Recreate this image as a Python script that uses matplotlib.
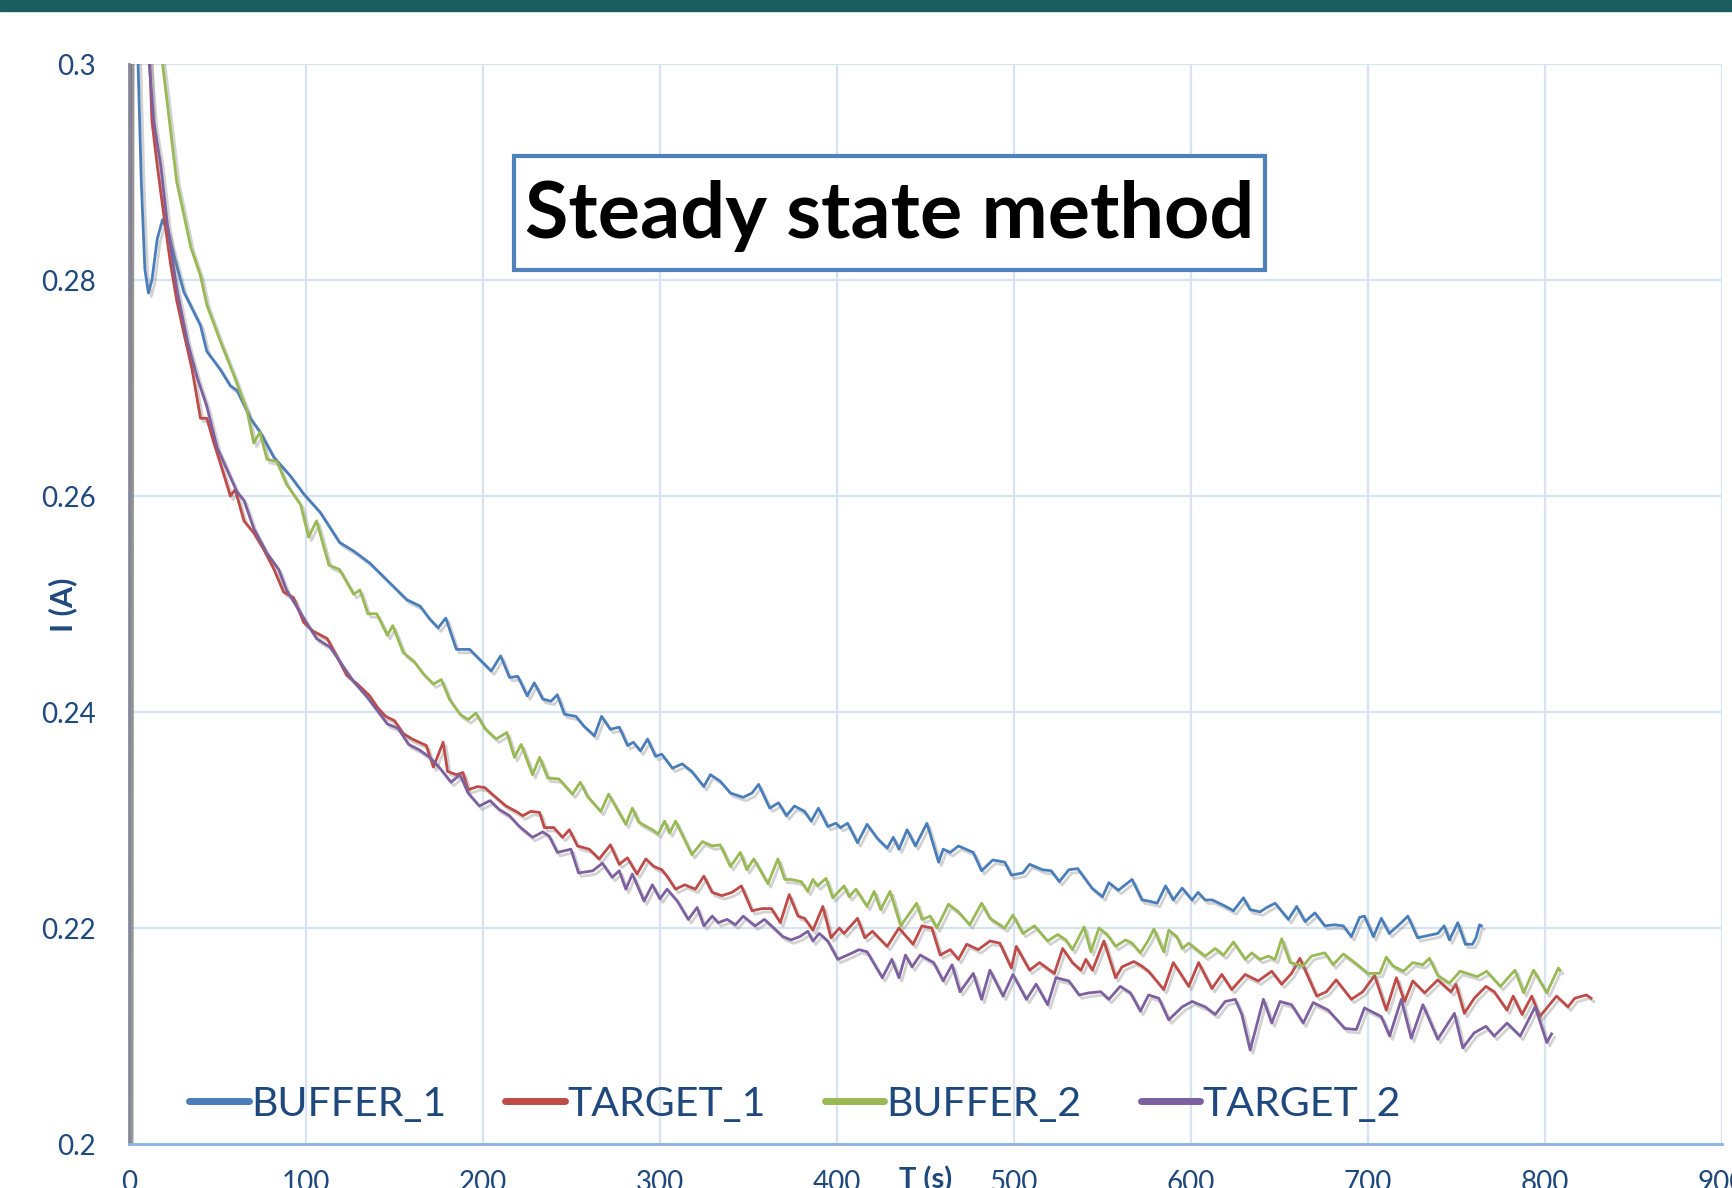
import matplotlib
matplotlib.use("Agg")
import matplotlib.pyplot as plt
import matplotlib.patheffects as pe
from matplotlib.patches import Rectangle
import matplotlib.transforms as mtransforms

# (time s, current A)
buffer_1 = [
    (0, 0.18), (1, 0.33), (3, 0.315), (5, 0.301), (7, 0.289), (9, 0.281), (11, 0.2788), (13, 0.2800),
    (16, 0.2838), (19, 0.2856), (22, 0.2845), (25.4, 0.2823), (31, 0.2789), (40.4, 0.2758), (44, 0.2734),
    (51.7, 0.2717), (57.3, 0.2702), (61, 0.2698), (68.6, 0.2672), (74.2, 0.2659), (81.8, 0.2636), (91, 0.2619),
    (98.7, 0.2602), (108, 0.2585), (119, 0.2557), (127, 0.2549), (136, 0.2538), (144, 0.2525), (149, 0.2517),
    (157, 0.2504), (164.5, 0.2498), (170, 0.2486), (174.7, 0.2478), (179, 0.2487), (185, 0.2458), (192.5, 0.2458),
    (198, 0.2449), (204.7, 0.2438), (210, 0.2452), (215, 0.2432), (219.7, 0.2433), (225, 0.2415), (229, 0.2427),
    (233.8, 0.2412), (238.5, 0.241), (242, 0.2416), (246, 0.2398), (252.5, 0.2396), (257, 0.2387), (263, 0.2378),
    (267, 0.2396), (272, 0.2384), (277, 0.2386), (281.7, 0.2369), (285, 0.2372), (289, 0.2364), (293, 0.2375),
    (297.5, 0.2359), (301, 0.2361), (307, 0.2348), (312.6, 0.2352), (318, 0.2345), (324.8, 0.2331), (328.5, 0.2342),
    (334, 0.2336), (339.8, 0.2325), (347, 0.2321), (352, 0.2325), (355.7, 0.2333), (362, 0.2311), (367, 0.2316),
    (371.4, 0.2304), (376, 0.2313), (381.7, 0.2308), (385.4, 0.2299), (389.5, 0.2311), (394.8, 0.2294),
    (399.4, 0.2297), (402, 0.2293), (406, 0.2297), (411.6, 0.2279), (417, 0.2296), (422.8, 0.2283), (428.4, 0.2274),
    (431.8, 0.2284), (435, 0.2273), (439.6, 0.2291), (444.3, 0.2276), (450.8, 0.2297), (457.4, 0.2261), (460, 0.2273),
    (464, 0.227), (468.6, 0.2276), (477, 0.227), (481.7, 0.2253), (488, 0.2263), (494.8, 0.2261), (498.5, 0.2249),
    (505, 0.2251), (508.8, 0.2259), (516, 0.2254), (521, 0.2253), (525.6, 0.2243), (531, 0.2254), (536, 0.2255),
    (544, 0.2237), (550, 0.2229), (553.6, 0.2242), (559, 0.2235), (566.7, 0.2245), (572.3, 0.2226), (576, 0.2225),
    (580.9, 0.2223), (585.6, 0.2239), (590, 0.2226), (595, 0.2237), (600.6, 0.2226), (604, 0.2233), (608, 0.2226),
    (612, 0.2226), (618.4, 0.2221), (624, 0.2216), (629.6, 0.2228), (633.4, 0.2217), (639, 0.2215), (642.8, 0.2219),
    (647.5, 0.2223), (655, 0.2208), (659.7, 0.222), (664.4, 0.2206), (670, 0.2214), (675.6, 0.2202), (681, 0.2203),
    (686, 0.2202), (690.6, 0.2192), (695.3, 0.221), (698, 0.2211), (703, 0.2192), (707.5, 0.2209), (712, 0.2195),
    (718.8, 0.2205), (722.5, 0.2211), (728, 0.2191), (733.8, 0.2193), (739.4, 0.2195), (743, 0.2202), (746, 0.2189),
    (750.7, 0.2205), (755, 0.2185), (759, 0.2185), (761, 0.2191), (763, 0.2203), (764, 0.2202),
]

target_1 = [
    (0, 0.18), (1, 0.36), (6, 0.325), (11.8, 0.300), (13, 0.2947), (16, 0.2906), (19.7, 0.286), (23.5, 0.2815),
    (27, 0.2781), (31, 0.2751), (35.7, 0.2717), (40.4, 0.2672), (44, 0.2672), (48, 0.2649), (51.7, 0.263),
    (57.3, 0.26), (60, 0.2606), (65, 0.2577), (70.5, 0.2566), (76, 0.2551), (82, 0.2532), (87.4, 0.2511),
    (93, 0.2506), (98.7, 0.2483), (104, 0.2475), (112, 0.2468), (117, 0.2453), (123, 0.2434), (129, 0.2426),
    (136, 0.2415), (140, 0.2405), (145, 0.2396), (150, 0.2392), (155, 0.2380), (160, 0.2375), (164, 0.2372),
    (168, 0.2369), (172, 0.2349), (177.5, 0.2372), (180, 0.2345), (185, 0.2342), (188.7, 0.2344), (191.6, 0.2328),
    (197, 0.2331), (201, 0.233), (206.6, 0.2322), (213, 0.2313), (218.7, 0.2308), (222.5, 0.2304), (227, 0.2308),
    (232, 0.2307), (234.7, 0.2293), (240, 0.2293), (245, 0.2284), (248.8, 0.2291), (253.4, 0.2276), (260, 0.2273),
    (265.7, 0.2264), (272, 0.2277), (277, 0.2259), (281.6, 0.2265), (287, 0.225), (292, 0.2264), (296.6, 0.2257),
    (301, 0.2254), (304, 0.2248), (308.8, 0.2236), (314, 0.224), (320, 0.2236), (324.8, 0.2248), (329.5, 0.2233),
    (335, 0.223), (340.7, 0.2233), (346, 0.2239), (352, 0.2216), (357.6, 0.2218), (363, 0.2218), (368, 0.2205),
    (373, 0.2231), (378, 0.2211), (381.7, 0.2209), (386.4, 0.2198), (392, 0.222), (396.6, 0.2191), (401.3, 0.22),
    (404, 0.2195), (411.6, 0.2209), (415.7, 0.2191), (420, 0.2197), (428.4, 0.2183), (435, 0.22), (443, 0.2185),
    (448, 0.2202), (453.6, 0.22), (458.3, 0.2175), (464, 0.218), (468.6, 0.2171), (473.3, 0.2185), (479.8, 0.218),
    (486.4, 0.2188), (492, 0.2186), (498.5, 0.2163), (501.3, 0.2183), (508.8, 0.2161), (514.4, 0.2168),
    (522.8, 0.2158), (527.5, 0.2181), (533, 0.2168), (537.8, 0.2161), (540.6, 0.2171), (544.3, 0.2161),
    (550.8, 0.2188), (557.4, 0.2154), (561, 0.2164), (567.7, 0.2169), (572, 0.2165), (576, 0.216), (584.6, 0.2143),
    (590, 0.2168), (598.7, 0.2146), (604.3, 0.2168), (611.8, 0.2144), (617.4, 0.2157), (623, 0.2143), (630.6, 0.2157),
    (638, 0.2151), (645.6, 0.216), (651.2, 0.2148), (656.8, 0.2158), (661.5, 0.2172), (671, 0.2137), (676.5, 0.2141),
    (682, 0.2152), (690.6, 0.2134), (697, 0.2141), (703.7, 0.2156), (710.3, 0.2124), (716, 0.2154), (720.6, 0.2132),
    (725.3, 0.2151), (732, 0.214), (739.4, 0.2152), (746.9, 0.2141), (749.7, 0.2148), (754.4, 0.2121), (760, 0.2135),
    (766.6, 0.2146), (771.3, 0.2141), (778.5, 0.2124), (782, 0.2137), (787, 0.212), (792.5, 0.2137), (797, 0.2118),
    (806.5, 0.2137), (813, 0.2127), (816.8, 0.2135), (823.4, 0.2138), (826, 0.2135),
]

buffer_2 = [
    (0, 0.18), (1, 0.37), (8, 0.335), (14, 0.312), (19, 0.300), (27, 0.2891), (35, 0.283), (40.4, 0.2804),
    (44, 0.2777), (51.7, 0.2743), (59, 0.2713), (66.7, 0.2679), (70.5, 0.2649), (74, 0.2659), (78, 0.2634),
    (83.6, 0.2632), (89, 0.2611), (97, 0.2592), (101.5, 0.2562), (106, 0.2577), (113, 0.2536), (119, 0.2532),
    (127, 0.2509), (130.5, 0.2513), (135, 0.2491), (140, 0.2491), (146, 0.2471), (149, 0.248), (155, 0.2455),
    (161, 0.2447), (166, 0.2436), (172, 0.2426), (176.5, 0.243), (181, 0.2412), (187, 0.2398), (191.6, 0.2393),
    (196, 0.2399), (201, 0.2385), (207.5, 0.2375), (213.5, 0.2381), (217.8, 0.2358), (221.6, 0.237), (228, 0.2342),
    (232, 0.2358), (236.6, 0.2339), (243, 0.2338), (250.6, 0.2324), (255, 0.2335), (259, 0.2322), (266.6, 0.2308),
    (271, 0.2324), (280.7, 0.2296), (284.4, 0.2311), (288, 0.2298), (295.7, 0.2291), (299, 0.2287), (302.6, 0.2299),
    (305.4, 0.2288), (308.8, 0.2299), (318, 0.2268), (324, 0.228), (329.5, 0.2276), (334, 0.2277), (339.8, 0.2257),
    (345.4, 0.227), (349, 0.2254), (353, 0.2264), (361, 0.2241), (366.6, 0.2264), (370.5, 0.2245), (374, 0.2245),
    (379.8, 0.2243), (383.5, 0.2234), (386.4, 0.2245), (389, 0.2239), (393.8, 0.2246), (397.6, 0.2228), (404, 0.2239),
    (406.9, 0.2229), (410.7, 0.2236), (417, 0.222), (421, 0.2234), (424.7, 0.2217), (430, 0.2234), (436, 0.2202),
    (445, 0.2223), (448, 0.2208), (452.7, 0.2211), (456.4, 0.22), (463, 0.2222), (468.6, 0.2215), (475, 0.2203),
    (481.7, 0.2223), (486.4, 0.2209), (494.8, 0.22), (499.4, 0.2212), (505, 0.2195), (511.6, 0.2202), (519, 0.2188),
    (524.7, 0.2194), (529.3, 0.2189), (533, 0.218), (539.6, 0.2201), (543.4, 0.2178), (548, 0.22), (552.7, 0.2194),
    (557.4, 0.2183), (563, 0.2189), (566.7, 0.2186), (571.4, 0.2177), (576, 0.2189), (579, 0.2199), (584.6, 0.2178),
    (587.4, 0.2198), (592, 0.2192), (595, 0.2181), (598.7, 0.2186), (603.4, 0.218), (608, 0.2174), (613.7, 0.2181),
    (618.4, 0.2175), (624, 0.2187), (630.6, 0.2171), (634.3, 0.2177), (639, 0.2171), (643.7, 0.2174), (647.5, 0.2171),
    (651.2, 0.219), (656, 0.2168), (663.4, 0.2165), (668, 0.2174), (675.6, 0.2177), (680.3, 0.2166), (686, 0.2176),
    (692.5, 0.2168), (700, 0.2158), (706.6, 0.2158), (710.3, 0.2173), (714, 0.2165), (720, 0.216), (725.3, 0.2168),
    (731, 0.2166), (734.7, 0.2172), (739.4, 0.2156), (746, 0.2149), (752, 0.216), (761.7, 0.2155), (767, 0.216),
    (774.8, 0.2146), (783, 0.2161), (787.9, 0.214), (793.5, 0.2161), (801, 0.214), (807.5, 0.2163), (808.4, 0.2161),
]

target_2 = [
    (0, 0.18), (1, 0.36), (6, 0.328), (11.5, 0.300), (14, 0.2947), (18, 0.2906), (21.6, 0.2853), (27, 0.2792),
    (33, 0.2743), (38.5, 0.271), (44, 0.2683), (49.8, 0.2645), (55, 0.2626), (61, 0.2604), (65, 0.2596),
    (70.5, 0.257), (78, 0.2547), (84.6, 0.2532), (89, 0.2513), (98.7, 0.2487), (106, 0.2468), (113.7, 0.246),
    (119, 0.2447), (127, 0.2428), (134, 0.2415), (140, 0.2402), (146, 0.2389), (152, 0.2385), (158, 0.2370),
    (164, 0.2365), (170, 0.2358), (174.7, 0.235), (182, 0.2335), (187, 0.2342), (191.6, 0.2325), (198, 0.2313),
    (204, 0.2318), (209, 0.231), (215, 0.2304), (220.6, 0.2294), (228, 0.2284), (233.8, 0.2289), (237.5, 0.2285),
    (242, 0.227), (249.7, 0.2273), (254, 0.2251), (262, 0.2253), (267.5, 0.226), (273, 0.2247), (277, 0.2253),
    (280.7, 0.2236), (284.4, 0.225), (291, 0.2225), (295.7, 0.224), (300, 0.2227), (304, 0.2236), (309.8, 0.2225),
    (316, 0.2208), (321, 0.2219), (324.8, 0.2202), (329.5, 0.2211), (333, 0.2205), (338, 0.2208), (342.6, 0.2203),
    (347, 0.2211), (353.8, 0.2202), (359, 0.2208), (365, 0.2199), (369.5, 0.2192), (374, 0.2189), (378.9, 0.2192),
    (383.5, 0.2197), (386.4, 0.2188), (390, 0.2195), (394.8, 0.2188), (400.4, 0.2171), (406, 0.2175), (412.5, 0.218),
    (417, 0.2178), (425.6, 0.2154), (431, 0.2171), (435, 0.2154), (438.7, 0.2175), (442.4, 0.2164), (447, 0.2175),
    (454.6, 0.2168), (460, 0.2151), (465, 0.2166), (469.5, 0.2141), (477, 0.2158), (481.7, 0.2134), (486.4, 0.2161),
    (493.8, 0.2137), (499.4, 0.2157), (507, 0.2134), (512.5, 0.2148), (519, 0.2129), (523.7, 0.2154), (531, 0.2151),
    (536.8, 0.2138), (542.4, 0.214), (549, 0.2141), (553.6, 0.2134), (560, 0.2146), (565.8, 0.214), (571.4, 0.2123),
    (576, 0.2138), (581.8, 0.2135), (587.4, 0.2115), (595, 0.2127), (600.6, 0.2132), (608, 0.2127), (613.7, 0.212),
    (619.3, 0.2132), (625, 0.2134), (628.7, 0.212), (633.4, 0.2087), (640.9, 0.2134), (645.6, 0.2112),
    (650.3, 0.2132), (656.8, 0.2129), (663.4, 0.2112), (669, 0.2131), (677.5, 0.2124), (686.9, 0.2107),
    (693.4, 0.2106), (698, 0.2126), (707.5, 0.2118), (712.2, 0.21), (718.8, 0.2134), (724.4, 0.2098), (731, 0.2129),
    (739.4, 0.2097), (748.8, 0.2121), (753.5, 0.2089), (760, 0.2103), (766.6, 0.2109), (771.3, 0.21), (778.5, 0.2112),
    (786, 0.21), (794.4, 0.2127), (801, 0.2094), (803.7, 0.2102),
]

series_names = ["BUFFER_1", "TARGET_1", "BUFFER_2", "TARGET_2"]
series_data = [buffer_1, target_1, buffer_2, target_2]
colors = ["#4a7ebb", "#be4b48", "#98b954", "#7d60a0"]

x_ticks = [0, 100, 200, 300, 400, 500, 600, 700, 800, 900]
y_ticks = [0.2, 0.22, 0.24, 0.26, 0.28, 0.3]
y_tick_labels = ["0.2", "0.22", "0.24", "0.26", "0.28", "0.3"]

text_blue = "#1f497d"
plt.rcParams['font.family'] = ['Lato', 'DejaVu Sans']

fig = plt.figure(figsize=(17.33, 11.88), dpi=100)
# dark band at the very top
fig.patches.append(Rectangle((0, 0.9907), 1, 0.0093, transform=fig.transFigure,
                             color="#1a5c60", zorder=0))

ax = fig.add_axes([0.0744, 0.037, 0.9193, 0.9091])

shadow = [pe.SimpleLineShadow(offset=(2, -2.5), shadow_color="#808080", alpha=0.35), pe.Normal()]
for name, data, c in zip(series_names, series_data, colors):
    t = [p[0] for p in data]
    i = [p[1] for p in data]
    ax.plot(t, i, color=c, linewidth=2.0, label=name, path_effects=shadow, solid_joinstyle='round')

ax.set_xlim(0, 900)
ax.set_ylim(0.2, 0.3)
ax.set_xticks(x_ticks)
ax.set_yticks(y_ticks)
ax.set_yticklabels(y_tick_labels)
ax.grid(True, color="#d7e3f3", linewidth=1.6)
ax.set_axisbelow(True)
ax.tick_params(axis='both', length=0, labelsize=20, labelcolor=text_blue)
ax.tick_params(axis='y', pad=24)
ax.tick_params(axis='x', pad=19)

for s in ['top', 'right']:
    ax.spines[s].set_visible(False)
ax.spines['bottom'].set_color("#8db3e2")
ax.spines['bottom'].set_linewidth(2)
ax.spines['left'].set_color("#868a98")
ax.spines['left'].set_linewidth(2)

# axis titles
fig.text(0.036, 0.491, "I (A)", rotation=90, ha='center', va='center',
         fontsize=22, fontweight='bold', color=text_blue)
trans = mtransforms.blended_transform_factory(ax.transData, ax.transAxes)
ax.text(450, -0.021, "T (s)", transform=trans, ha='center', va='top',
        fontsize=21, fontweight='bold', color=text_blue, clip_on=False)

# title box
ax.add_patch(Rectangle((0.2417, 0.8093), 0.4714, 0.1055, transform=ax.transAxes,
                       facecolor="white", edgecolor="#4f81bd", linewidth=3, zorder=5))
ax.text(0.4774, 0.859, "Steady state method", transform=ax.transAxes, ha='center', va='center',
        fontsize=57, fontweight='bold', color="black", zorder=6)

leg = ax.legend(loc='center left', bbox_to_anchor=(0.038, 0.037), ncol=4, frameon=False,
                fontsize=29.5, labelcolor=text_blue, handlelength=1.45, handletextpad=0.05,
                columnspacing=1.45, borderaxespad=0, borderpad=0)
for h in leg.get_lines():
    h.set_linewidth(5)
    h.set_path_effects([])
    h.set_solid_capstyle('round')

fig.savefig("out.png", dpi=100)
